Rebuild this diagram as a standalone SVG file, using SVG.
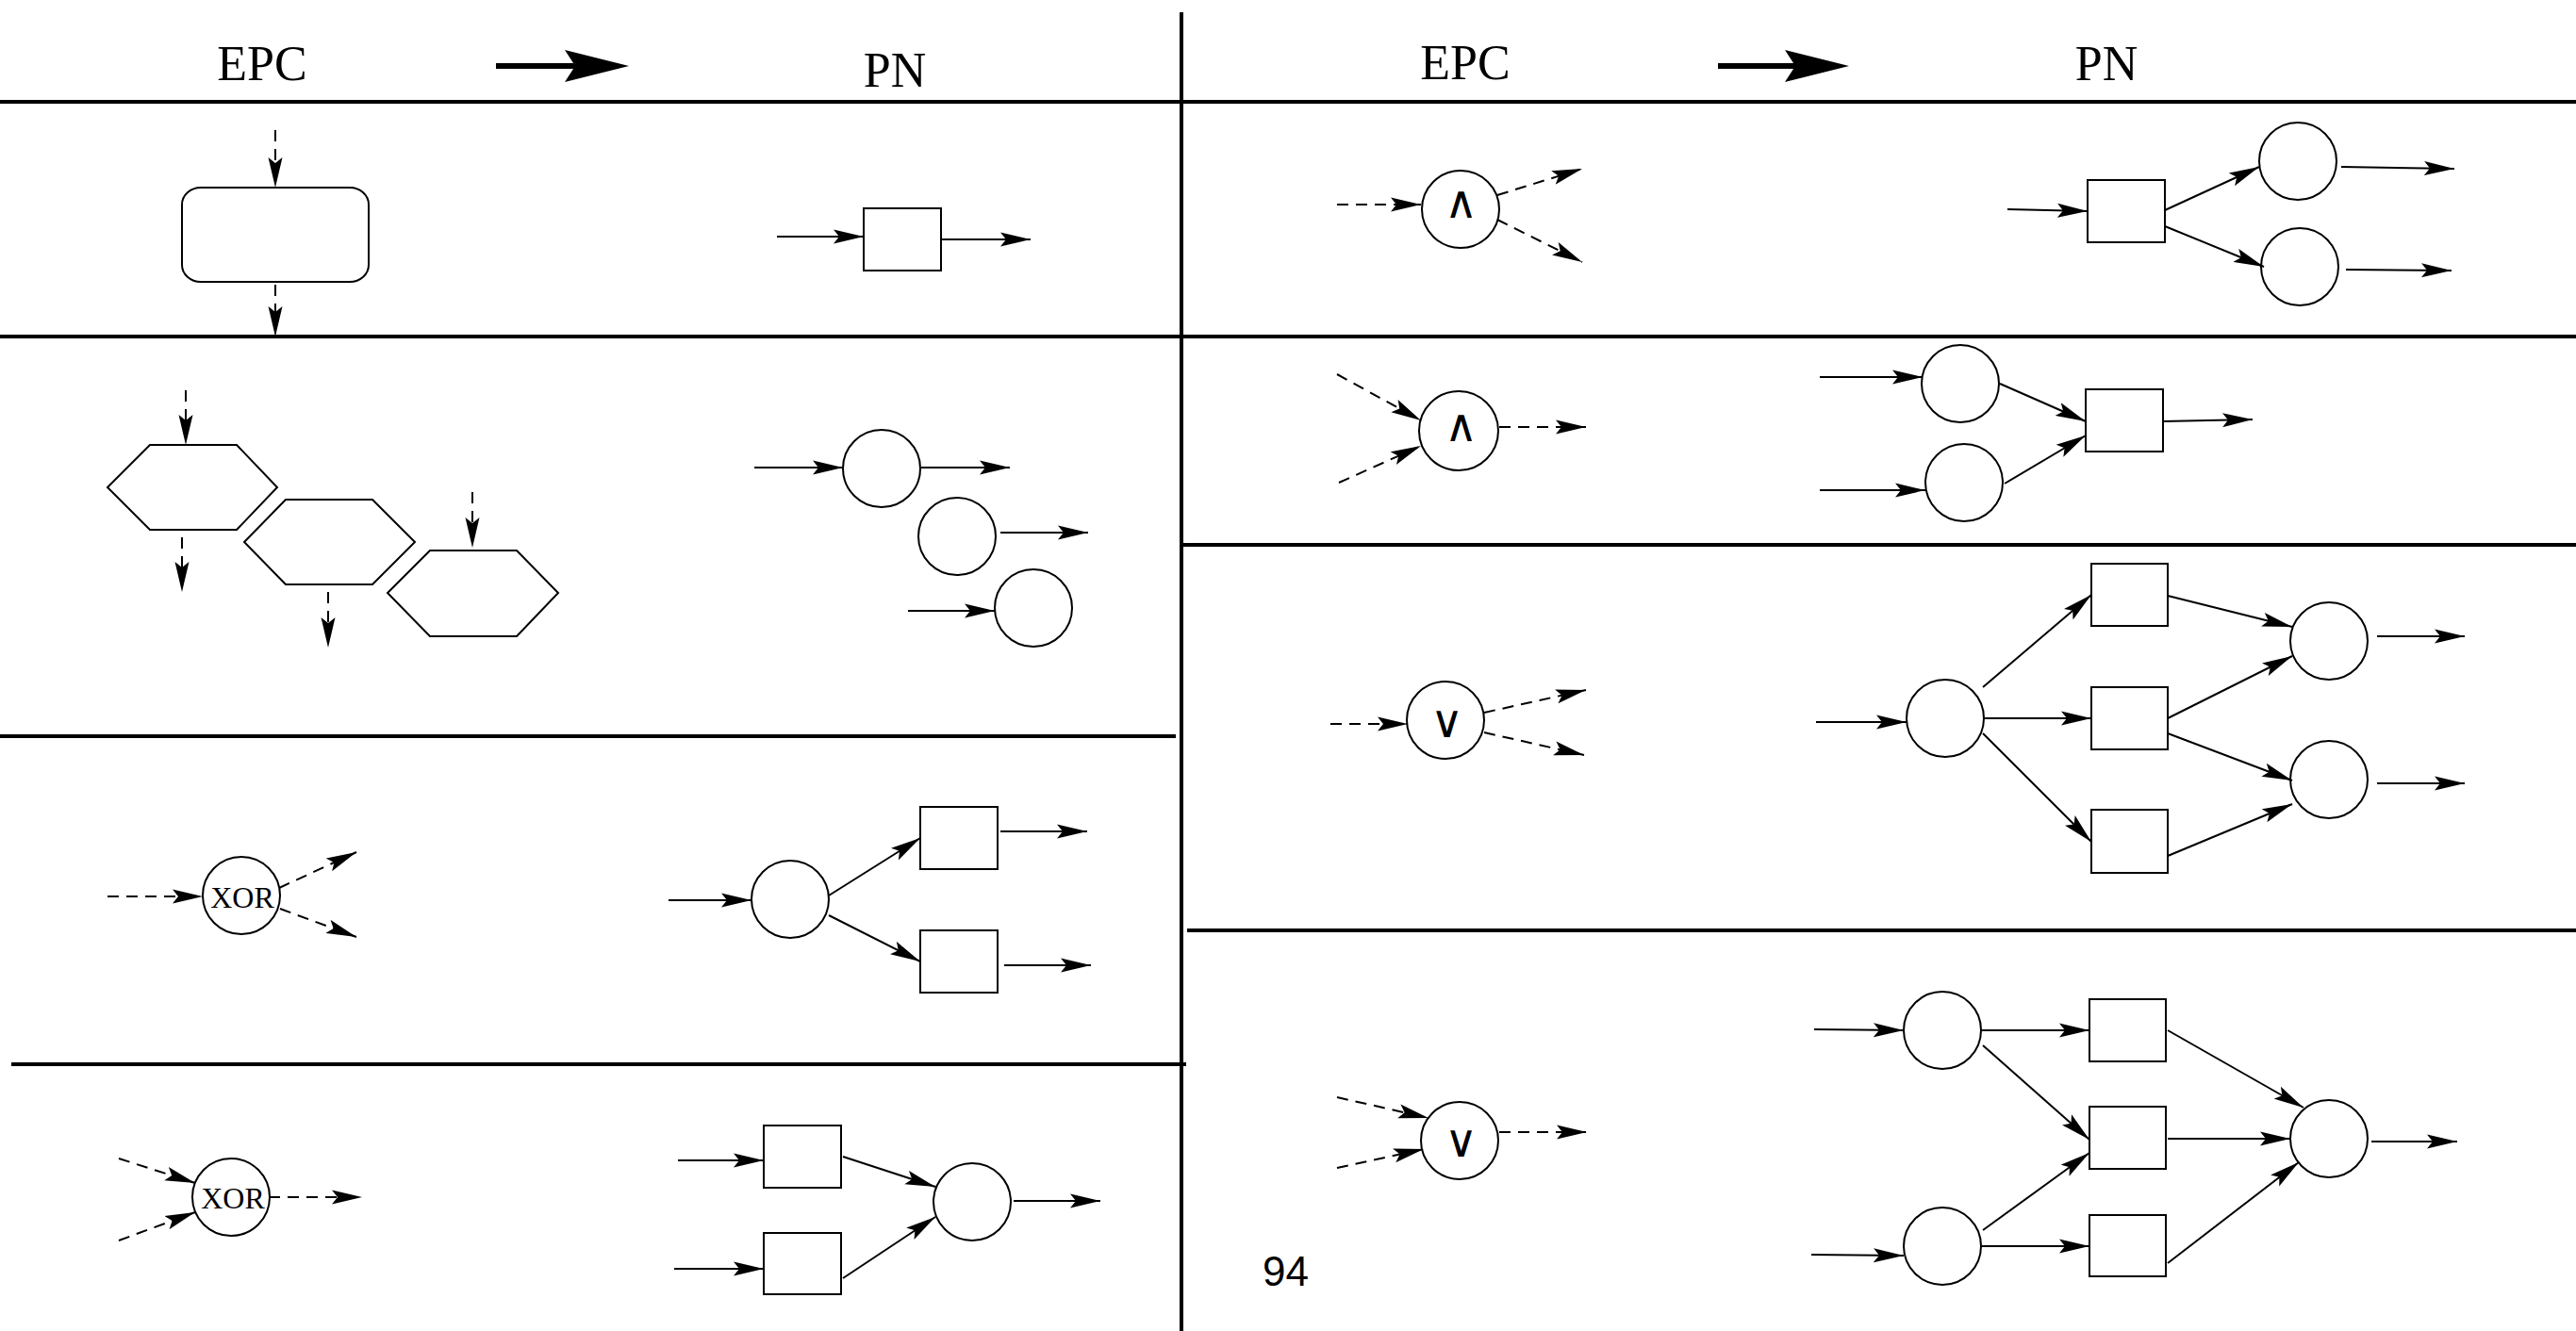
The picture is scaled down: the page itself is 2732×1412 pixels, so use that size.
<svg xmlns="http://www.w3.org/2000/svg" width="2732" height="1412" viewBox="0 0 2732 1412">
<style>
.sh{fill:#fff;stroke:#000;stroke-width:2}
.c{stroke:#000;stroke-width:2;fill:none;marker-end:url(#ah)}
.d{stroke-dasharray:12 8}
.rule{stroke:#000;stroke-width:4;fill:none}
.hd{font-family:"Liberation Serif",serif;font-size:52px;text-anchor:middle;fill:#000}
.xor{font-family:"Liberation Serif",serif;font-size:32px;text-anchor:middle;fill:#000}
.op{font-family:"DejaVu Sans",sans-serif;font-size:48px;font-weight:200;text-anchor:middle;fill:#000}
.pg{font-family:"Liberation Sans",sans-serif;font-size:44px;fill:#000}
</style>
<defs>
<marker id="ah" markerUnits="userSpaceOnUse" markerWidth="34" markerHeight="16" refX="32" refY="8" orient="auto" viewBox="0 0 34 16"><path d="M0,0.5 L32,8 L0,15.5 L6,8 z" fill="#000"/></marker>
</defs>
<rect width="2732" height="1412" fill="#fff"/>

<g id="grid">
<line class="rule" x1="1253" y1="13" x2="1253" y2="1412"/>
<line class="rule" x1="0" y1="108" x2="2732" y2="108"/>
<line class="rule" x1="0" y1="357" x2="2732" y2="357"/>
<line class="rule" x1="0" y1="781" x2="1247" y2="781"/>
<line class="rule" x1="12" y1="1129" x2="1258" y2="1129"/>
<line class="rule" x1="1253" y1="578" x2="2732" y2="578"/>
<line class="rule" x1="1259" y1="987" x2="2732" y2="987"/>
</g>

<g id="header">
<text class="hd" x="278" y="85">EPC</text>
<text class="hd" x="949" y="92">PN</text>
<text class="hd" x="1554" y="84">EPC</text>
<text class="hd" x="2234" y="85">PN</text>
<line x1="526" y1="70" x2="610" y2="70" stroke="#000" stroke-width="6"/>
<polygon points="599,53 667,70 599,87 610,70" fill="#000"/>
<line x1="1822" y1="70" x2="1905" y2="70" stroke="#000" stroke-width="6"/>
<polygon points="1893,53 1961,70 1893,87 1904,70" fill="#000"/>
</g>

<g id="l1-function"><rect class="sh" x="193" y="199" width="198" height="100" rx="20" ry="18"/></g>
<g id="l1-transition"><rect class="sh" x="916" y="221" width="82" height="66"/></g>

<g id="l2-event1"><polygon class="sh" points="159,472 251,472 294,517 251,562 159,562 114,517"/></g>
<g id="l2-event2"><polygon class="sh" points="303,530 395,530 440,575 395,620 303,620 259,575"/></g>
<g id="l2-event3"><polygon class="sh" points="456,584 548,584 592,629 548,675 456,675 411,629"/></g>
<g id="l2-place1"><circle class="sh" cx="935" cy="497" r="41"/></g>
<g id="l2-place2"><circle class="sh" cx="1015" cy="569" r="41"/></g>
<g id="l2-place3"><circle class="sh" cx="1096" cy="645" r="41"/></g>

<g id="l3-xor"><circle class="sh" cx="256" cy="950" r="41"/><text class="xor" x="257" y="963">XOR</text></g>
<g id="l3-place"><circle class="sh" cx="838" cy="954" r="41"/></g>
<g id="l3-t1"><rect class="sh" x="976" y="856" width="82" height="66"/></g>
<g id="l3-t2"><rect class="sh" x="976" y="987" width="82" height="66"/></g>

<g id="l4-xor"><circle class="sh" cx="245" cy="1270" r="41"/><text class="xor" x="247" y="1282">XOR</text></g>
<g id="l4-t1"><rect class="sh" x="810" y="1194" width="82" height="66"/></g>
<g id="l4-t2"><rect class="sh" x="810" y="1308" width="82" height="65"/></g>
<g id="l4-place"><circle class="sh" cx="1031" cy="1275" r="41"/></g>

<g id="r1-and"><circle class="sh" cx="1549" cy="222" r="41"/><text class="op" x="1549" y="231">∧</text></g>
<g id="r1-t"><rect class="sh" x="2214" y="191" width="82" height="66"/></g>
<g id="r1-p1"><circle class="sh" cx="2437" cy="171" r="41"/></g>
<g id="r1-p2"><circle class="sh" cx="2439" cy="283" r="41"/></g>

<g id="r2-and"><circle class="sh" cx="1547" cy="457" r="42"/><text class="op" x="1549" y="468">∧</text></g>
<g id="r2-p1"><circle class="sh" cx="2079" cy="407" r="41"/></g>
<g id="r2-p2"><circle class="sh" cx="2083" cy="512" r="41"/></g>
<g id="r2-t"><rect class="sh" x="2212" y="413" width="82" height="66"/></g>

<g id="r3-or"><circle class="sh" cx="1533" cy="764" r="41"/><text class="op" x="1534" y="782">∨</text></g>
<g id="r3-p"><circle class="sh" cx="2063" cy="762" r="41"/></g>
<g id="r3-t1"><rect class="sh" x="2218" y="598" width="81" height="66"/></g>
<g id="r3-t2"><rect class="sh" x="2218" y="729" width="81" height="66"/></g>
<g id="r3-t3"><rect class="sh" x="2218" y="859" width="81" height="67"/></g>
<g id="r3-p2"><circle class="sh" cx="2470" cy="680" r="41"/></g>
<g id="r3-p3"><circle class="sh" cx="2470" cy="827" r="41"/></g>

<g id="r4-or"><circle class="sh" cx="1548" cy="1210" r="41"/><text class="op" x="1549" y="1227">∨</text></g>
<g id="r4-p1"><circle class="sh" cx="2060" cy="1093" r="41"/></g>
<g id="r4-p2"><circle class="sh" cx="2060" cy="1322" r="41"/></g>
<g id="r4-t1"><rect class="sh" x="2216" y="1060" width="81" height="66"/></g>
<g id="r4-t2"><rect class="sh" x="2216" y="1174" width="81" height="66"/></g>
<g id="r4-t3"><rect class="sh" x="2216" y="1289" width="81" height="65"/></g>
<g id="r4-p3"><circle class="sh" cx="2470" cy="1208" r="41"/></g>

<text class="pg" x="1339" y="1364">94</text>

<g id="connectors">
<line class="c d" x1="292" y1="138" x2="292" y2="199"/>
<line class="c d" x1="292" y1="302" x2="292" y2="357"/>
<line class="c" x1="824" y1="251" x2="916" y2="251"/>
<line class="c" x1="998" y1="254" x2="1093" y2="254"/>

<line class="c d" x1="197" y1="414" x2="197" y2="472"/>
<line class="c d" x1="193" y1="570" x2="193" y2="628"/>
<line class="c d" x1="348" y1="628" x2="348" y2="687"/>
<line class="c d" x1="501" y1="522" x2="501" y2="581"/>
<line class="c" x1="800" y1="496" x2="894" y2="496"/>
<line class="c" x1="977" y1="496" x2="1071" y2="496"/>
<line class="c" x1="1061" y1="565" x2="1154" y2="565"/>
<line class="c" x1="963" y1="648" x2="1055" y2="648"/>

<line class="c d" x1="114" y1="951" x2="215" y2="951"/>
<line class="c d" x1="296" y1="942" x2="378" y2="904"/>
<line class="c d" x1="297" y1="964" x2="378" y2="994"/>
<line class="c" x1="709" y1="955" x2="797" y2="955"/>
<line class="c" x1="879" y1="950" x2="976" y2="889"/>
<line class="c" x1="879" y1="971" x2="976" y2="1020"/>
<line class="c" x1="1061" y1="882" x2="1153" y2="882"/>
<line class="c" x1="1065" y1="1024" x2="1157" y2="1024"/>

<line class="c d" x1="126" y1="1229" x2="207" y2="1255"/>
<line class="c d" x1="126" y1="1316" x2="207" y2="1286"/>
<line class="c d" x1="285" y1="1270" x2="384" y2="1270"/>
<line class="c" x1="719" y1="1231" x2="810" y2="1231"/>
<line class="c" x1="715" y1="1346" x2="810" y2="1346"/>
<line class="c" x1="894" y1="1227" x2="992" y2="1259"/>
<line class="c" x1="894" y1="1356" x2="992" y2="1291"/>
<line class="c" x1="1075" y1="1274" x2="1167" y2="1274"/>

<line class="c d" x1="1418" y1="217" x2="1507" y2="217"/>
<line class="c d" x1="1588" y1="207" x2="1678" y2="179"/>
<line class="c d" x1="1588" y1="233" x2="1678" y2="278"/>
<line class="c" x1="2129" y1="222" x2="2214" y2="224"/>
<line class="c" x1="2296" y1="223" x2="2396" y2="177"/>
<line class="c" x1="2296" y1="240" x2="2401" y2="283"/>
<line class="c" x1="2483" y1="177" x2="2603" y2="179"/>
<line class="c" x1="2488" y1="286" x2="2600" y2="287"/>

<line class="c d" x1="1418" y1="397" x2="1507" y2="446"/>
<line class="c d" x1="1420" y1="512" x2="1507" y2="473"/>
<line class="c d" x1="1590" y1="453" x2="1682" y2="453"/>
<line class="c" x1="1930" y1="400" x2="2039" y2="400"/>
<line class="c" x1="1930" y1="520" x2="2042" y2="520"/>
<line class="c" x1="2121" y1="407" x2="2212" y2="447"/>
<line class="c" x1="2126" y1="513" x2="2212" y2="462"/>
<line class="c" x1="2294" y1="447" x2="2389" y2="445"/>

<line class="c d" x1="1411" y1="768" x2="1493" y2="768"/>
<line class="c d" x1="1574" y1="756" x2="1682" y2="732"/>
<line class="c d" x1="1574" y1="777" x2="1680" y2="801"/>
<line class="c" x1="1926" y1="766" x2="2022" y2="766"/>
<line class="c" x1="2103" y1="729" x2="2218" y2="631"/>
<line class="c" x1="2104" y1="762" x2="2218" y2="762"/>
<line class="c" x1="2103" y1="778" x2="2218" y2="893"/>
<line class="c" x1="2299" y1="632" x2="2431" y2="665"/>
<line class="c" x1="2299" y1="762" x2="2431" y2="696"/>
<line class="c" x1="2299" y1="778" x2="2431" y2="828"/>
<line class="c" x1="2299" y1="908" x2="2431" y2="853"/>
<line class="c" x1="2521" y1="675" x2="2614" y2="675"/>
<line class="c" x1="2521" y1="831" x2="2614" y2="831"/>

<line class="c d" x1="1418" y1="1164" x2="1515" y2="1186"/>
<line class="c d" x1="1418" y1="1239" x2="1510" y2="1219"/>
<line class="c d" x1="1590" y1="1201" x2="1683" y2="1201"/>
<line class="c" x1="1924" y1="1092" x2="2019" y2="1093"/>
<line class="c" x1="1921" y1="1331" x2="2019" y2="1332"/>
<line class="c" x1="2101" y1="1093" x2="2216" y2="1093"/>
<line class="c" x1="2103" y1="1109" x2="2216" y2="1209"/>
<line class="c" x1="2103" y1="1305" x2="2216" y2="1223"/>
<line class="c" x1="2101" y1="1322" x2="2216" y2="1322"/>
<line class="c" x1="2299" y1="1093" x2="2443" y2="1175"/>
<line class="c" x1="2299" y1="1208" x2="2429" y2="1208"/>
<line class="c" x1="2299" y1="1340" x2="2438" y2="1233"/>
<line class="c" x1="2515" y1="1211" x2="2606" y2="1211"/>
</g>
</svg>
